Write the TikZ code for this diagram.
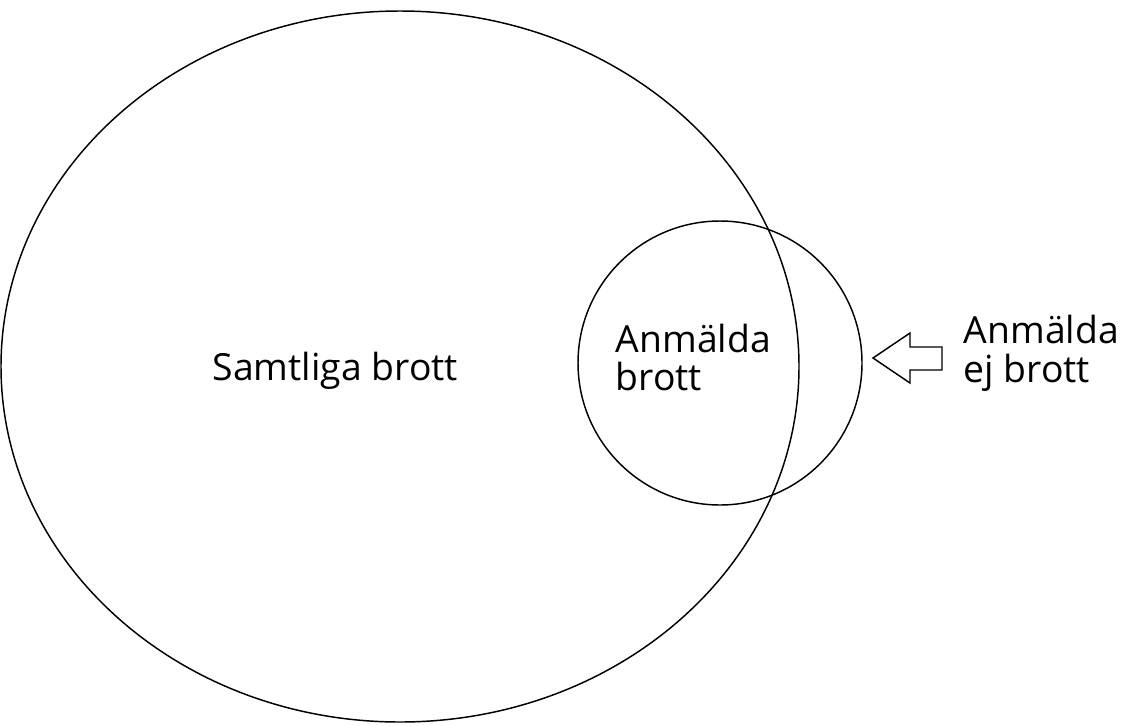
\documentclass[tikz,border=0pt]{standalone}
\usepackage{fontspec}
\setmainfont{Open Sans}
\usepackage{tikz}

\begin{document}
\begin{tikzpicture}[x=0.75pt,y=-0.75pt,line width=1.1pt,
  etikett/.style={anchor=base west,inner sep=0pt,font=\fontsize{28}{34}\selectfont}]
 \useasboundingbox (0,0) rectangle (1131,725); %bildens ram
 \coordinate (S) at (400,366.5); %samtliga brottens mitt
 \coordinate (A) at (720,363); %anmaelda brottens mitt
 \draw (S) ellipse [x radius=399, y radius=355.5]; %samtliga brott
 \draw (A) circle (142); %anmaelda brott
 \node[etikett] (samtliga) at (212,380) {Samtliga brott};
 \node[etikett] (anm1) at (615,352) {Anmälda};
 \node[etikett] (anm2) at (615,390) {brott};
 \coordinate (P) at (873,358); %pilens spets
 \draw[fill=white] (P)--(910,333)--(910,347)--(942,347)--(942,370)--(910,370)--(910,383)--cycle; %pil
 \node[etikett] (ej1) at (963,343) {Anmälda};
 \node[etikett] (ej2) at (963,382) {ej brott};
\end{tikzpicture}
\end{document}
